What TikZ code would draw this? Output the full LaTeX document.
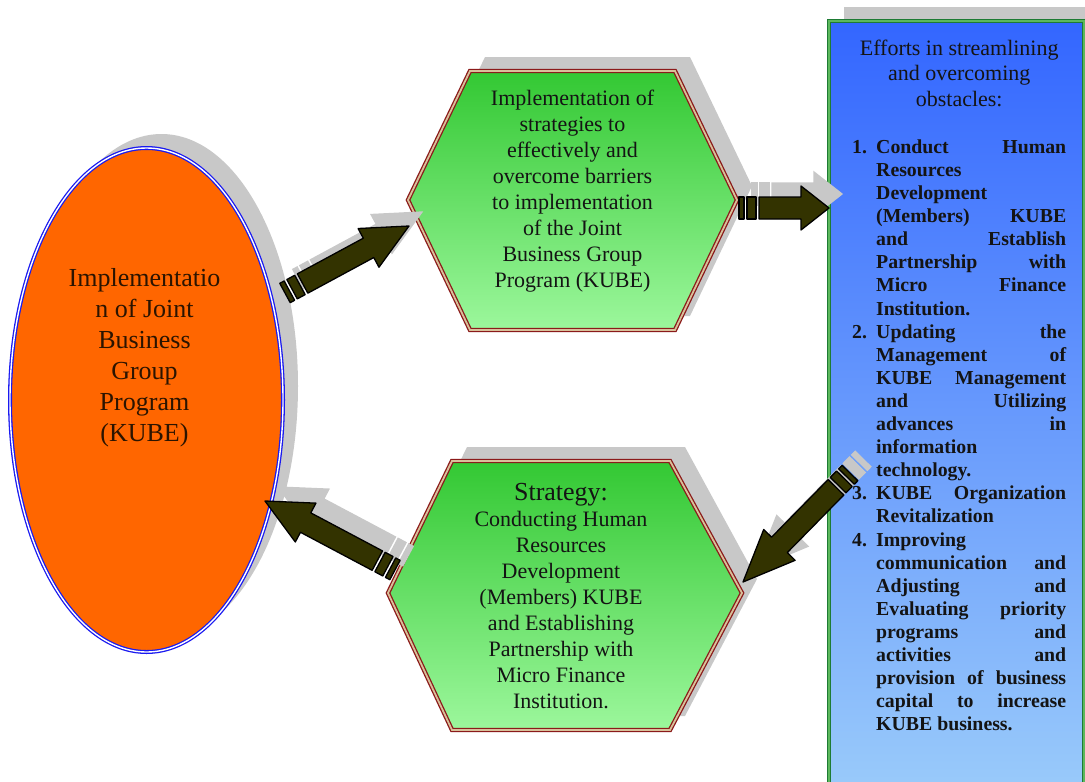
\documentclass[tikz,border=0pt]{standalone}
\usepackage{fontspec}
\setmainfont{Liberation Serif}
\usepackage{xcolor}
\usepackage{tikz}
\usetikzlibrary{positioning,shapes,calc,shadows}

\definecolor{kubeorange}{HTML}{FF6600}
\definecolor{ovalblue}{HTML}{1A1AF0}
\definecolor{hexgreentop}{HTML}{33C833}
\definecolor{hexgreenbot}{HTML}{9CF79C}
\definecolor{hexred}{HTML}{8B1A1A}
\definecolor{hextan}{HTML}{D8C09A}
\definecolor{boxbluetop}{HTML}{3366FF}
\definecolor{boxbluebot}{HTML}{9CCDFA}
\definecolor{boxgreen}{HTML}{1E7B34}
\definecolor{boxgreenlight}{HTML}{5CB85C}
\definecolor{arrowolive}{HTML}{333300}
\definecolor{shadowgray}{HTML}{C8C8C8}
\definecolor{inkdark}{HTML}{141414}
\definecolor{inkbrown}{HTML}{2B1400}

% striped block arrow from one named coordinate to another, #3 = head length
\newcommand{\stripedarrow}[3]{%
  \path let \p1=($(#2)-(#1)$) in \pgfextra{%
    \pgfmathsetmacro{\arrang}{atan2(\y1,\x1)}\xdef\arrang{\arrang}%
    \pgfmathsetmacro{\arrlen}{veclen(\x1,\y1)}\xdef\arrlen{\arrlen}};
  \foreach \dx/\dy/\look in {13/-14/arrowshadow,0/0/arrowbody}{
    \begin{scope}[shift={(#1)}, shift={(\dx,\dy)}, rotate=\arrang]
      \path[\look] (0,-11) rectangle (5,11) (8,-11) rectangle (17,11);
      \path[\look] (20,-11) -- ({\arrlen-#3},-11) -- ({\arrlen-#3},-22)
        -- (\arrlen,0) -- ({\arrlen-#3},22) -- ({\arrlen-#3},11) -- (20,11) -- cycle;
    \end{scope}}%
}
\newcommand{\effortitem}[2]{\par\hangindent=24pt\hangafter=1\noindent\makebox[24pt][l]{#1}#2\par}

\begin{document}
\begin{tikzpicture}[
            x=1pt, y=-1pt,
            grayshadow/.style={drop shadow={shadow xshift=15pt, shadow yshift=14pt, fill=shadowgray, opacity=1}},
            kubeoval/.style={ellipse, draw=ovalblue, double=white, double distance=1.4pt, line width=1.3pt, fill=kubeorange, minimum width=273, minimum height=504, grayshadow},
            hexbox/.style={top color=hexgreentop, bottom color=hexgreenbot, draw=hexred, double=hextan, double distance=1.8pt, line width=1.3pt, grayshadow},
            effortbox/.style={rectangle, top color=boxbluetop, bottom color=boxbluebot, draw=boxgreen, double=boxgreenlight, double distance=1.8pt, line width=1.2pt, grayshadow},
            arrowshadow/.style={fill=shadowgray, draw=shadowgray, line width=1.3pt},
            arrowbody/.style={fill=arrowolive, draw=black, line width=1.3pt, line join=round}
        ]
            \useasboundingbox (0,0) rectangle (1085,782);
            \clip (0,0) rectangle (1085,782);
            % Shapes
            \node[kubeoval] (kube) at (146.5,400) {};
            \draw[hexbox] (408,200) -- (470,71) -- (675,71) -- (737,200) -- (675,330) -- (470,330) -- cycle; % implementation
            \draw[hexbox] (388,593) -- (452,461) -- (670,461) -- (742,593) -- (670,730) -- (452,730) -- cycle; % strategy
            \node[effortbox, anchor=north west, minimum width=255, minimum height=790] (efforts) at (828,20) {};
            \begin{scope}[
                every node/.style={align=center, inner sep=0pt, text=inkdark, font=\fontsize{22}{26}\selectfont}
            ]
                % Labels
                \node[text=inkbrown, font=\fontsize{26}{31}\selectfont] (kubetext) at (144.5,358)
                    {Implementatio\\n of Joint\\Business\\Group\\Program\\(KUBE)};
                \node (impl) at (572.5,191)
                    {Implementation of\\strategies to\\effectively and\\overcome barriers\\to implementation\\of the Joint\\Business Group\\Program (KUBE)};
                \node (strat) at (561,596)
                    {{\fontsize{26}{28}\selectfont Strategy:}\\Conducting Human\\Resources\\Development\\(Members) KUBE\\and Establishing\\Partnership with\\Micro Finance\\Institution.};
                \node[anchor=base west] (effortstext) at (852,55) {\begin{minipage}[t]{214pt}
                    {\centering\fontsize{22}{25.5}\selectfont Efforts in streamlining\\and overcoming\\obstacles:\par}
                    \vspace{24.2pt}
                    \bfseries\fontsize{19.8}{23.1}\selectfont
                    \effortitem{1.}{Conduct\hfill Human\\Resources\\Development\\(Members)\hfill KUBE\\and\hfill Establish\\Partnership\hfill with\\Micro\hfill Finance\\Institution.}
                    \effortitem{2.}{Updating\hfill the\\Management\hfill of\\KUBE\hfill Management\\and\hfill Utilizing\\advances\hfill in\\information\\technology.}
                    \effortitem{3.}{KUBE\hfill Organization\\Revitalization}
                    \effortitem{4.}{Improving\\communication\hfill and\\Adjusting\hfill and\\Evaluating\hfill priority\\programs\hfill and\\activities\hfill and\\provision\hfill of\hfill business\\capital\hfill to\hfill increase\\KUBE business.}
                \end{minipage}};
            \end{scope}
            % Arrows
            \coordinate (a1s) at (285,293); \coordinate (a1e) at (409,226); % kube -> impl
            \coordinate (a2s) at (739,208); \coordinate (a2e) at (829,208); % impl -> efforts
            \coordinate (a3s) at (850,473); \coordinate (a3e) at (743,582); % efforts -> strat
            \coordinate (a4s) at (395,570); \coordinate (a4e) at (265,501); % strat -> kube
            \stripedarrow{a1s}{a1e}{46}
            \stripedarrow{a2s}{a2e}{28}
            \stripedarrow{a3s}{a3e}{52}
            \stripedarrow{a4s}{a4e}{46}
        \end{tikzpicture}
\end{document}
